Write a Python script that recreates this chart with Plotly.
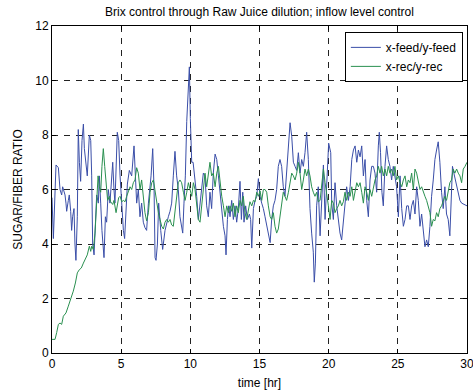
import plotly.graph_objects as go

# ---- data ----
t_feed = [0.0, 0.1, 0.29, 0.46, 0.58, 0.70, 0.77, 0.94, 1.01, 1.06, 1.18, 1.25, 1.35, 1.42, 1.49, 1.59,
          1.66, 1.73, 1.83, 1.90, 1.98, 2.07, 2.17, 2.27, 2.34, 2.46, 2.55, 2.70, 2.80, 2.87, 2.94, 3.04,
          3.16, 3.23, 3.35, 3.42, 3.52, 3.61, 3.76, 3.86, 3.95, 4.07, 4.19, 4.29, 4.39, 4.48, 4.55, 4.72,
          4.82, 4.92, 5.04, 5.16, 5.25, 5.35, 5.45, 5.59, 5.76, 5.93, 6.03, 6.12, 6.24, 6.36, 6.48, 6.60,
          6.72, 6.84, 6.97, 7.16, 7.28, 7.38, 7.45, 7.52, 7.62, 7.71, 7.86, 8.00, 8.17, 8.29, 8.41, 8.53,
          8.65, 8.77, 8.89, 9.01, 9.13, 9.25, 9.45, 9.54, 9.64, 9.74, 9.83, 9.93, 10.0, 10.1, 10.2, 10.34,
          10.46, 10.58, 10.7, 10.82, 10.94, 11.06, 11.18, 11.3, 11.42, 11.54, 11.66, 11.79, 11.91, 12.03,
          12.15, 12.27, 12.39, 12.51, 12.58, 12.68, 12.77, 12.87, 12.99, 13.11, 13.23, 13.35, 13.47, 13.59,
          13.69, 13.79, 13.88, 14.0, 14.12, 14.27, 14.36, 14.44, 14.56, 14.68, 14.8, 14.92, 15.04, 15.16,
          15.28, 15.4, 15.52, 15.64, 15.77, 15.88, 16.0, 16.12, 16.24, 16.36, 16.48, 16.6, 16.72, 16.84,
          16.96, 17.09, 17.21, 17.33, 17.45, 17.57, 17.69, 17.81, 17.93, 18.05, 18.17, 18.29, 18.41, 18.53,
          18.65, 18.77, 18.89, 18.96, 19.04, 19.13, 19.25, 19.38, 19.5, 19.62, 19.74, 19.86, 20.0, 20.15,
          20.22, 20.34, 20.46, 20.58, 20.7, 20.82, 20.94, 21.06, 21.18, 21.3, 21.43, 21.55, 21.67, 21.79,
          21.91, 22.03, 22.15, 22.27, 22.39, 22.51, 22.63, 22.75, 22.87, 22.99, 23.11, 23.23, 23.35, 23.47,
          23.59, 23.66, 23.75, 23.85, 23.95, 24.07, 24.19, 24.31, 24.43, 24.55, 24.67, 24.79, 24.91, 25.04,
          25.16, 25.28, 25.4, 25.52, 25.64, 25.76, 25.88, 26.0, 26.12, 26.24, 26.36, 26.48, 26.6, 26.72,
          26.84, 26.96, 27.08, 27.2, 27.32, 27.44, 27.56, 27.68, 27.8, 27.92, 28.04, 28.16, 28.28, 28.4,
          28.52, 28.64, 28.76, 28.83, 28.95, 29.05, 29.2, 29.37, 29.49, 29.61, 29.78, 30.0]
y_feed = [5.7, 4.2, 6.9, 6.8, 6.0, 5.8, 6.1, 5.8, 5.5, 5.2, 5.6, 5.8, 5.2, 4.5, 5.0, 5.3,
          4.0, 3.4, 5.0, 8.2, 7.0, 6.3, 7.8, 8.4, 7.5, 7.0, 6.5, 8.0, 7.8, 6.5, 4.0, 3.6,
          5.0, 5.8, 5.5, 6.5, 5.5, 4.5, 3.5, 5.0, 4.8, 6.0, 5.5, 6.5, 7.0, 6.0, 5.5, 8.1,
          7.8, 6.5, 5.5, 4.5, 4.2, 5.5, 6.2, 6.7, 6.5, 7.6, 6.5, 5.5, 6.0, 5.0, 5.5, 4.8,
          4.6, 4.5, 5.5, 6.5, 7.5, 6.0, 3.5, 3.4, 4.0, 5.5, 4.5, 3.8, 4.5, 4.8, 5.0, 5.2,
          5.5, 6.5, 7.4, 6.5, 6.0, 5.0, 4.4, 5.5, 6.5, 8.5, 9.5, 10.5, 8.6, 7.0, 7.0, 6.4,
          5.75, 4.9, 5.4, 6.1, 6.6, 6.5, 5.4, 5.0, 5.9, 5.3, 6.6, 7.3, 7.1, 6.5,
          5.9, 5.1, 4.65, 4.3, 3.6, 4.9, 5.4, 5.0, 5.6, 4.9, 5.4, 4.8, 5.3, 6.3,
          4.9, 5.9, 4.8, 5.4, 4.9, 5.1, 4.9, 3.85, 5.3, 5.6, 5.75, 6.4, 5.75, 5.5,
          5.3, 5.0, 4.65, 4.3, 4.05, 4.9, 5.4, 5.6, 6.0, 6.85, 7.1, 6.85, 6.1, 5.75,
          6.6, 7.6, 8.45, 7.95, 7.0, 6.85, 6.7, 7.35, 6.6, 7.1, 6.85, 7.35, 8.1, 7.1,
          5.3, 4.4, 3.7, 2.6, 3.3, 5.4, 6.1, 4.3, 5.4, 6.9, 4.9, 6.3, 7.7, 7.35,
          5.5, 4.9, 6.25, 5.4, 4.8, 4.4, 4.15, 4.9, 5.5, 6.1, 5.6, 6.1, 7.1, 7.45,
          7.6, 7.0, 7.45, 7.2, 7.6, 6.5, 7.1, 5.6, 5.0, 6.35, 6.85, 6.85, 6.6, 5.9,
          7.6, 8.1, 7.35, 5.9, 5.4, 6.85, 7.6, 7.1, 6.85, 6.35, 6.85, 6.5, 6.1, 5.0,
          6.5, 5.3, 4.65, 4.9, 5.4, 5.4, 4.9, 5.4, 5.6, 5.1, 6.1, 5.6, 4.65, 5.1,
          4.4, 3.9, 4.15, 3.9, 4.65, 5.75, 6.35, 7.1, 7.45, 7.75, 7.0, 5.9, 5.3, 6.1,
          5.1, 4.9, 4.3, 5.4, 6.85, 6.6, 6.25, 5.9, 5.6, 5.5, 5.45, 5.4]

t_rec = [0.0, 0.22, 0.34, 0.46, 0.58, 0.7, 0.82, 1.01, 1.18, 1.35, 1.54, 1.69, 1.83, 1.98, 2.12, 2.27,
         2.41, 2.55, 2.7, 2.8, 2.87, 2.99, 3.11, 3.23, 3.33, 3.42, 3.52, 3.61, 3.71, 3.81, 3.9, 4.02,
         4.15, 4.24, 4.39, 4.48, 4.63, 4.72, 4.82, 4.92, 5.04, 5.16, 5.28, 5.4, 5.52, 5.64, 5.76, 5.88,
         6.0, 6.12, 6.24, 6.36, 6.48, 6.6, 6.72, 6.84, 6.97, 7.09, 7.21, 7.33, 7.45, 7.57, 7.69, 7.81,
         7.93, 8.05, 8.17, 8.29, 8.41, 8.53, 8.65, 8.77, 8.89, 9.01, 9.13, 9.25, 9.37, 9.5, 9.62, 9.74,
         9.86, 10.1, 10.22, 10.34, 10.46, 10.58, 10.7, 10.82, 10.94, 11.06, 11.18, 11.3, 11.42, 11.54,
         11.66, 11.79, 11.91, 12.03, 12.15, 12.27, 12.39, 12.51, 12.63, 12.75, 12.87, 12.99, 13.11, 13.23,
         13.35, 13.47, 13.59, 13.71, 13.83, 13.95, 14.07, 14.19, 14.31, 14.44, 14.56, 14.68, 14.8, 14.92,
         15.04, 15.16, 15.28, 15.4, 15.52, 15.64, 15.77, 15.88, 16.0, 16.12, 16.24, 16.36, 16.48, 16.6,
         16.72, 16.84, 16.96, 17.09, 17.21, 17.33, 17.45, 17.57, 17.69, 17.81, 17.93, 18.05, 18.17, 18.29,
         18.41, 18.53, 18.65, 18.77, 18.89, 19.01, 19.13, 19.25, 19.38, 19.5, 19.62, 19.74, 19.86, 19.98,
         20.1, 20.22, 20.34, 20.46, 20.58, 20.7, 20.82, 20.94, 21.06, 21.18, 21.3, 21.43, 21.55, 21.67,
         21.79, 21.91, 22.03, 22.15, 22.27, 22.39, 22.51, 22.63, 22.75, 22.87, 22.99, 23.11, 23.23, 23.35,
         23.47, 23.59, 23.71, 23.83, 23.95, 24.07, 24.19, 24.31, 24.43, 24.55, 24.67, 24.79, 24.91, 25.04,
         25.16, 25.28, 25.4, 25.52, 25.64, 25.76, 25.88, 26.0, 26.12, 26.24, 26.36, 26.48, 26.6, 26.72,
         26.84, 26.96, 27.08, 27.2, 27.32, 27.44, 27.56, 27.68, 27.8, 27.92, 28.04, 28.16, 28.28, 28.4,
         28.52, 28.64, 28.76, 28.88, 29.0, 29.12, 29.25, 29.37, 29.49, 29.61, 29.73, 29.86, 30.0]
y_rec = [0.5, 0.5, 0.75, 1.05, 1.1, 1.05, 1.35, 1.47, 1.72, 1.96, 2.27, 2.57, 2.94, 3.06, 3.12, 3.3,
         3.43, 3.6, 3.92, 3.73, 3.92, 3.8, 4.4, 5.4, 6.5, 6.1, 5.9, 6.85, 7.5, 6.85, 6.35, 5.6,
         5.75, 5.55, 5.45, 5.6, 5.15, 5.4, 5.7, 5.75, 5.55, 5.6, 5.55, 5.75, 5.9, 6.1, 6.0, 6.25,
         6.35, 6.8, 6.6, 6.0, 6.35, 5.6, 5.15, 4.85, 5.15, 5.9, 6.25, 6.35, 5.9, 5.6, 5.15, 4.9,
         4.65, 4.55, 4.8, 4.9, 4.8, 4.9, 4.7, 4.65, 5.15, 5.6, 6.25, 6.35, 6.25, 5.9, 5.6, 5.9,
         6.25, 5.75, 6.25, 6.0, 5.4, 4.9, 4.8, 5.4, 5.9, 6.6, 6.1, 6.5, 7.0, 6.5,
         6.6, 6.1, 6.6, 6.85, 6.25, 5.75, 5.4, 5.0, 5.4, 5.15, 5.4, 5.2, 5.5, 5.0,
         5.4, 5.15, 5.6, 5.4, 5.75, 5.15, 4.9, 5.3, 5.55, 5.4, 5.6, 5.55, 5.9, 5.75,
         5.95, 5.6, 6.0, 6.0, 5.9, 5.4, 5.0, 4.9, 5.15, 4.65, 4.4, 4.55, 5.0, 5.3,
         5.9, 5.75, 5.6, 5.9, 6.35, 6.6, 6.5, 6.35, 6.6, 7.0, 6.6, 6.0, 6.35, 6.75,
         6.5, 6.75, 6.5, 6.1, 5.9, 5.75, 5.9, 5.55, 5.6, 6.1, 6.75, 6.25, 5.9, 5.4,
         4.9, 5.6, 5.5, 5.15, 5.3, 5.4, 5.6, 5.4, 5.55, 5.9, 5.6, 5.9, 5.75, 6.1,
         5.6, 6.0, 6.25, 6.1, 6.25, 5.9, 5.5, 6.1, 5.9, 5.6, 6.0, 5.75, 6.1, 6.35,
         6.5, 6.85, 6.6, 6.85, 6.5, 6.75, 6.5, 6.85, 6.6, 6.75, 6.5, 6.85, 6.35, 6.5,
         6.25, 6.1, 6.35, 6.5, 6.1, 6.35, 6.25, 6.6, 6.0, 6.75, 6.6, 6.25, 6.0, 6.1,
         5.9, 5.75, 5.6, 5.4, 5.15, 4.65, 4.9, 4.85, 5.15, 5.0, 5.3, 5.4, 5.55, 5.75,
         5.6, 6.0, 6.25, 6.35, 6.75, 6.6, 6.75, 6.6, 6.5, 6.25, 6.75, 6.85, 7.0]

x_ticks = [0, 5, 10, 15, 20, 25, 30]
y_ticks = [0, 2, 4, 6, 8, 10, 12]

FONT = "Liberation Sans, Arial, sans-serif"

fig = go.Figure()
fig.add_trace(go.Scatter(x=t_feed, y=y_feed, mode="lines", name="x-feed/y-feed",
                         line=dict(color="#3a4ea8", width=1)))
fig.add_trace(go.Scatter(x=t_rec, y=y_rec, mode="lines", name="x-rec/y-rec",
                         line=dict(color="#2a9050", width=1)))

axis_common = dict(showline=True, linecolor="black", linewidth=1, mirror="ticks",
                   ticks="inside", ticklen=4, tickcolor="black",
                   showgrid=True, gridcolor="#222222", gridwidth=1, griddash="6px,6px",
                   zeroline=False, ticklabeloverflow="allow", automargin=False,
                   tickfont=dict(family=FONT, size=12, color="black"))

fig.update_xaxes(range=[0, 30], tickvals=x_ticks, **axis_common,
                 title=dict(text="time [hr]", font=dict(family=FONT, size=12, color="black"), standoff=8))
fig.update_yaxes(range=[0, 12], tickvals=y_ticks, **axis_common,
                 title=dict(text="SUGAR/FIBER RATIO", font=dict(family=FONT, size=12, color="black"), standoff=10))

fig.update_layout(
    width=473, height=392,
    margin=dict(l=52, r=6, t=26, b=39, autoexpand=False),
    paper_bgcolor="white", plot_bgcolor="white",
    font=dict(family=FONT, size=12, color="black"),
    title=dict(text="Brix control through Raw Juice dilution; inflow level control",
               x=0.5, xref="paper", y=1 - 12 / 392, yref="container", yanchor="middle",
               font=dict(family=FONT, size=12, color="black")),
    showlegend=True,
    legend=dict(x=0.99, y=0.982, xanchor="right", yanchor="top",
                bgcolor="white", bordercolor="black", borderwidth=1,
                font=dict(family=FONT, size=12, color="black"),
                tracegroupgap=0, itemwidth=30),
)

fig.write_html("out.html")
